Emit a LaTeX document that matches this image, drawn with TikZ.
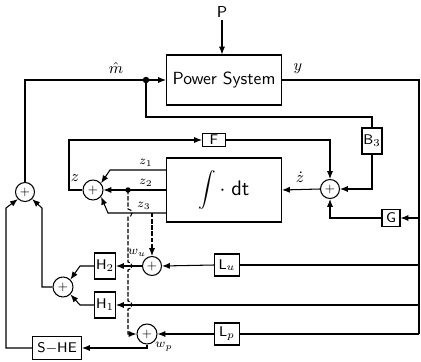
\documentclass[tikz,border=0pt]{standalone}
\usetikzlibrary{arrows.meta}
\begin{document}
\begin{tikzpicture}[
        x=0.02cm, y=-0.02cm, line width=0.6pt,
        blk/.style={draw, rectangle, inner sep=0pt, font=\sffamily\footnotesize},
        sumc/.style={draw, circle, inner sep=0pt, minimum size=0.38cm, font=\sffamily\scriptsize},
        lbl/.style={inner sep=1pt, font=\sffamily\small},
        >={Latex[length=4.5pt,width=3.5pt]}
    ]
        \useasboundingbox (0,0) rectangle (421,361);

        % Glavni blok sistema z vhodom P
        \node[lbl] (p) at (222,12) {P};
        \node[blk, font=\sffamily, minimum width=2.3cm, minimum height=1cm] (ps) at (224,80) {Power System};
        \node[circle, fill, inner sep=1.3pt] (dot) at (146,80) {};
        \node[lbl] (lbl_m) at (116,68) {$\hat{m}$};
        \node[lbl] (lbl_y) at (298,69) {$y$};
        \coordinate (rt) at (419,80);
        \coordinate (rb) at (419,334);

        % --- ZGORNJA ZANKA: integrator in sestevalisce ---
        \node[blk, font=\sffamily\large, minimum width=2.3cm, minimum height=1.28cm] (integ) at (224,190) {$\displaystyle\int\cdot\;\mathsf{dt}$};
        \node[sumc] (sum_zd) at (330,189) {+};
        \node[blk, minimum width=0.46cm, minimum height=0.26cm] (fbox) at (214,140) {F};
        \node[blk, minimum width=0.4cm, minimum height=0.52cm] (b3) at (372,141) {B$_3$};
        \node[blk, minimum width=0.36cm, minimum height=0.34cm] (gbox) at (391,218) {G};
        \node[lbl] (lbl_zd) at (300,177) {$\dot z$};

        % Sestevalisce z in njegovi vhodi z1, z2, z3
        \node[sumc, minimum size=0.4cm] (sum_z) at (93,190) {+};
        \node[circle, fill, inner sep=1.1pt] (zdot) at (128,190) {};
        \node[lbl] (lbl_z) at (75,178) {$z$};
        \node[lbl, font=\scriptsize] (lbl_z1) at (146,163) {$z_1$};
        \node[lbl, font=\scriptsize] (lbl_z2) at (146,183) {$z_2$};
        \node[lbl, font=\scriptsize] (lbl_z3) at (144,206) {$z_3$};

        % --- SPODNJI DEL: H, L in S-HE ---
        \node[sumc] (sum_m) at (25,192) {+};
        \node[sumc, minimum size=0.4cm] (sum_h) at (63,287) {+};
        \node[sumc] (sum_wu) at (152,266) {+};
        \node[sumc, minimum size=0.4cm] (sum_wp) at (147,334) {+};
        \node[blk, minimum width=0.42cm, minimum height=0.52cm] (h2) at (105,266) {H$_2$};
        \node[blk, minimum width=0.42cm, minimum height=0.52cm] (h1) at (105,305) {H$_1$};
        \node[blk, minimum width=0.5cm, minimum height=0.44cm] (lu) at (227,265) {L$_u$};
        \node[blk, minimum width=0.5cm, minimum height=0.44cm] (lp) at (227,334) {L$_p$};
        \node[blk, minimum width=0.98cm, minimum height=0.46cm] (she) at (57,348) {S$-$HE};
        \node[lbl, font=\scriptsize] (lbl_wu) at (137,253) {$w_u$};
        \node[lbl, font=\scriptsize] (lbl_wp) at (164,347) {$w_p$};

        % Povezave okoli glavnega bloka
        \draw[->] (p.south) -- (p.south |- ps.north);
        \draw[->] (sum_m.north) |- (ps.west);
        \draw (dot.center) -- ++(0,37) -| (b3.north);
        \draw (ps.east) -- (rt) -- (rb);

        % Povezave v zgornji zanki
        \draw[->] (b3.south) |- (sum_zd.east);
        \draw[->] (fbox.east) -| (sum_zd.north);
        \draw[->] (gbox.west) -| (sum_zd.south);
        \draw[->] (gbox.east -| rt) -- (gbox.east);
        \draw[->] (sum_zd.west) -- (integ.east);
        \draw[->] (integ.west |- 0,170) -- (110,170) -- (sum_z.40);
        \draw[->] (integ.west) -- (sum_z.east);
        \draw[->] (integ.west |- 0,213) -- (108,213) -- (sum_z.-40);
        \draw[->] (sum_z.west) -- (69,190) |- (fbox.west);

        % Crtkani odcepi z mostovi cez vodoravne linije
        \draw[dash pattern=on 2.5pt off 1pt, ->] (zdot.center) -- (128,209)
            arc[start angle=-90, end angle=90, radius=4] -- (128,262)
            arc[start angle=-90, end angle=90, radius=4] -- (128,301)
            arc[start angle=-90, end angle=90, radius=4] -- (128,334) -- (sum_wp.west);
        \draw[dash pattern=on 2.5pt off 1pt, ->] (sum_wu.north |- 0,213) -- (sum_wu.north);

        % Povezave v spodnjem delu
        \draw (rt |- lu) -- (lu.east);
        \draw[->] (lu.west) -- (sum_wu.east);
        \draw[->] (sum_wu.west) -- (h2.east);
        \draw[->] (h2.west) -- (80,266) -- (sum_h.45);
        \draw[->] (rt |- h1) -- (h1.east);
        \draw[->] (h1.west) -- (80,305) -- (sum_h.-45);
        \draw[->] (sum_h.west) -- (42,287) -- (42,208) -- (sum_m.-45);
        \draw (rb) -- (lp.east);
        \draw[->] (lp.west) -- (sum_wp.east);
        \draw[->] (sum_wp.south) |- (she.east);
        \draw[->] (she.west) -- (6,348) -- (6,208) -- (sum_m.-135);
    \end{tikzpicture}
\end{document}
